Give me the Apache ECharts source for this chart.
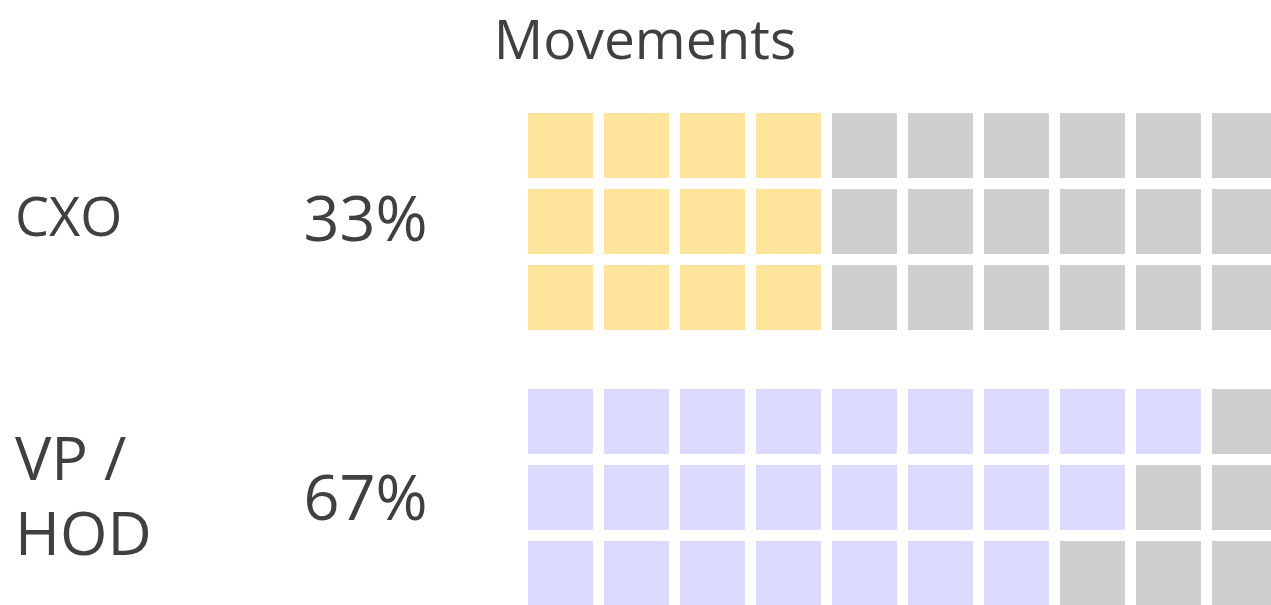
<!DOCTYPE html>
<html>
<head>
<meta charset="utf-8">
<script src="https://cdn.jsdelivr.net/npm/echarts@6/dist/echarts.min.js"></script>
<style>
html,body{margin:0;padding:0;background:#fff;}
#chart{width:1271px;height:605px;}
</style>
</head>
<body>
<div id="chart"></div>
<script>
// ---- data ----
const chartTitle = 'Movements';
const categories = ['CXO', 'VP /\nHOD'];
const percentLabels = ['33%', '67%'];
const columns = ['1','2','3','4','5','6','7','8','9','10'];
const rows = ['1','2','3'];
const filledCXO = [4, 4, 4];   // filled squares per row
const filledVP  = [9, 8, 7];
const filledPerGroup = [filledCXO, filledVP];

const groupColors = ['#FFE59B', '#DCDBFF'];
const emptyColor = '#CFCFCF';
const textColor = '#404040';
const fontFam = '"Open Sans", "Noto Sans", sans-serif';

const chart = echarts.init(document.getElementById('chart'));

const gridTops = [107.5, 383.5];
const grids = [], xAxes = [], yAxes = [], series = [];
filledPerGroup.forEach((filled, g) => {
  grids.push({ left: 522.5, top: gridTops[g], width: 760, height: 228, outerBoundsMode: 'none', containLabel: false });
  xAxes.push({ type: 'category', gridIndex: g, data: columns, show: false });
  yAxes.push({ type: 'category', gridIndex: g, data: rows, inverse: true, show: false });
  const data = [];
  rows.forEach((r, ri) => {
    columns.forEach((c, ci) => {
      data.push({
        value: [ci, ri],
        itemStyle: { color: ci < filled[ri] ? groupColors[g] : emptyColor, opacity: 1 }
      });
    });
  });
  series.push({
    type: 'scatter', xAxisIndex: g, yAxisIndex: g,
    symbol: 'rect', symbolSize: 65, clip: false,
    itemStyle: { opacity: 1 },
    silent: true, animation: false,
    data: data
  });
});

const catY = [220.5, 500.5];
const catSize = [54, 61];
const pctY = [223, 502];
const graphics = [
  { type: 'text', x: 645, y: 43.5, style: { text: chartTitle, font: '55px ' + fontFam, fill: textColor, align: 'center', verticalAlign: 'middle' } }
];
categories.forEach((cat, g) => {
  graphics.push({ type: 'text', x: 15, y: catY[g],
    style: { text: cat, font: catSize[g] + 'px ' + fontFam, lineHeight: 75, fill: textColor, align: 'left', verticalAlign: 'middle' } });
  graphics.push({ type: 'text', x: 365.5, y: pctY[g],
    style: { text: percentLabels[g], font: '63px ' + fontFam, fill: textColor, align: 'center', verticalAlign: 'middle' } });
});

chart.setOption({
  animation: false,
  grid: grids,
  xAxis: xAxes,
  yAxis: yAxes,
  series: series,
  graphic: graphics
});
</script>
</body>
</html>
